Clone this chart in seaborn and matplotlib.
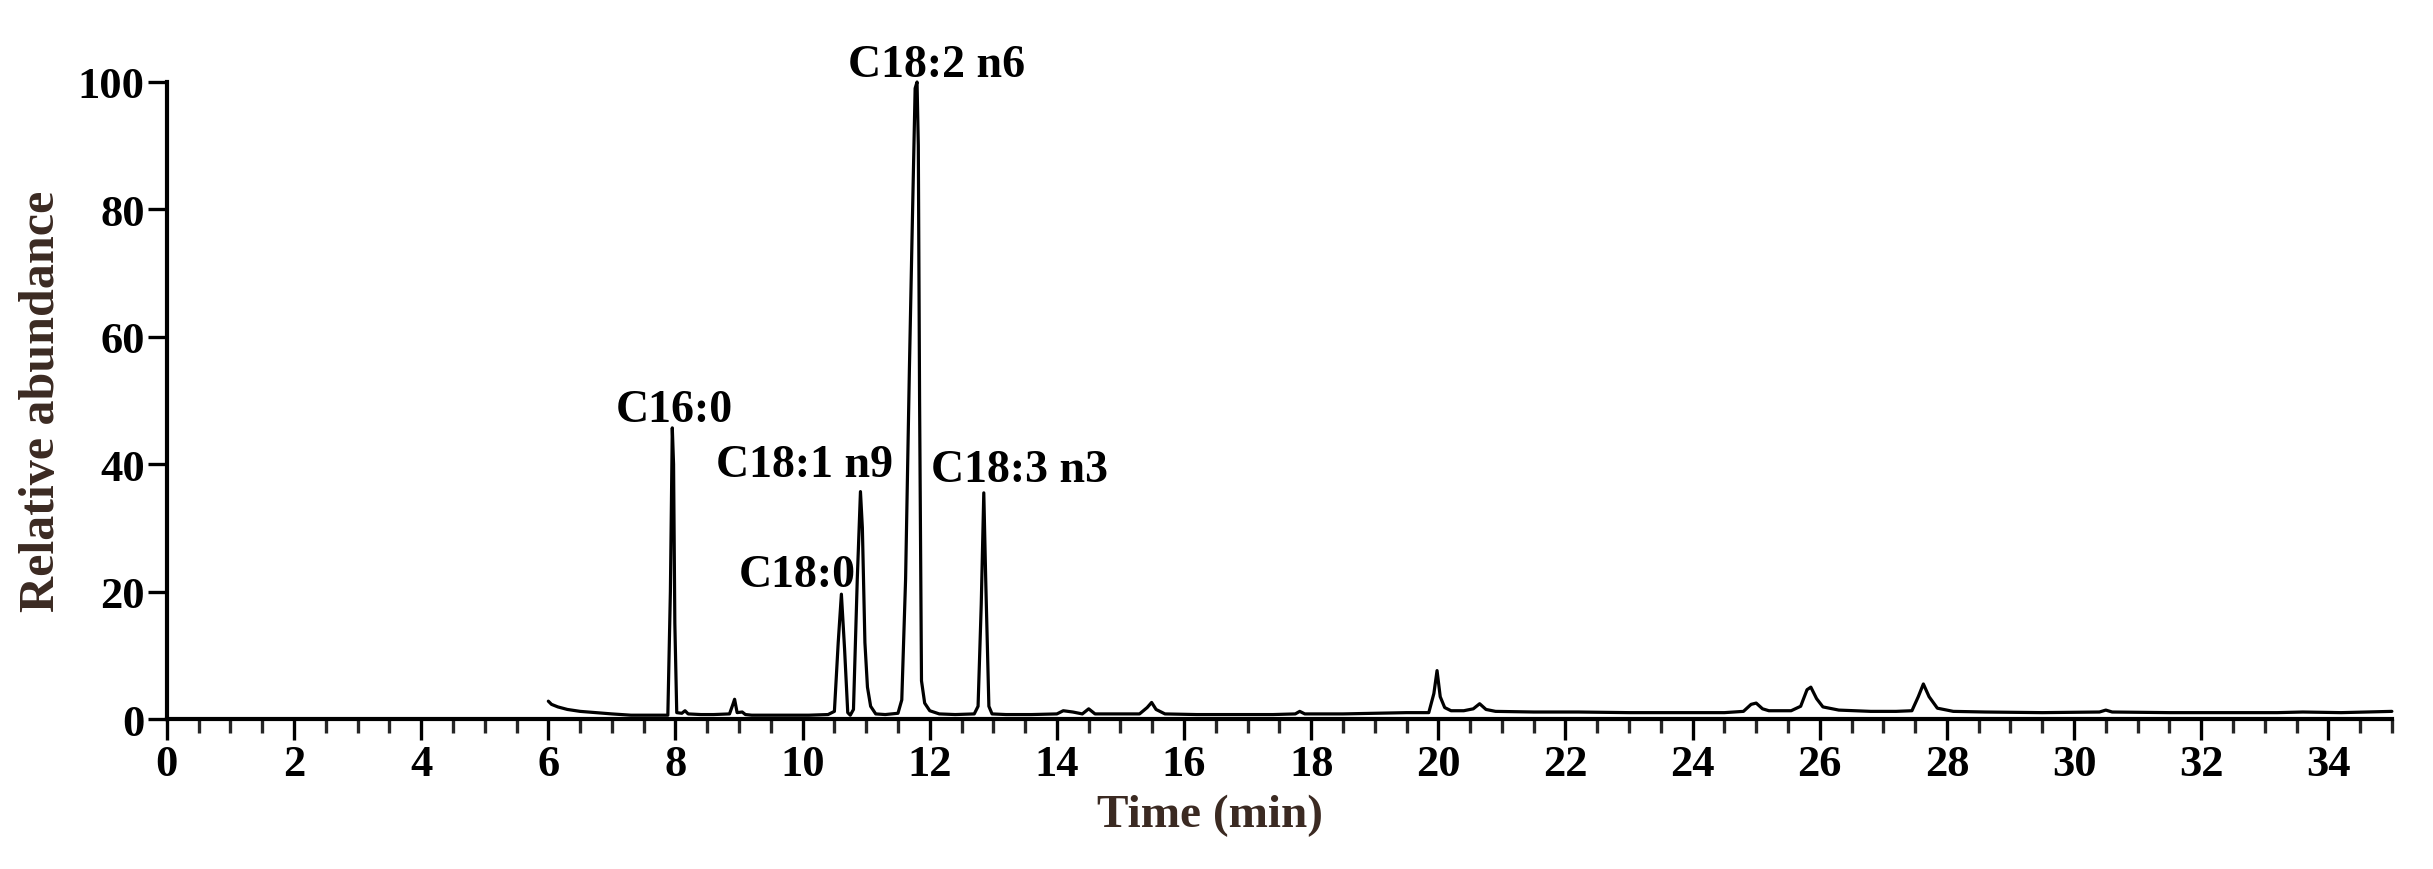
import matplotlib
matplotlib.use("Agg")
import matplotlib.pyplot as plt
from matplotlib.ticker import MultipleLocator, FixedLocator
import pandas as pd
import seaborn as sns

# ---- data ----
time_min = [6.00, 6.05, 6.15, 6.30, 6.50, 6.75, 7.00, 7.30, 7.60, 7.88,
            7.92, 7.95, 7.97, 7.99, 8.02, 8.10, 8.15, 8.20, 8.40, 8.60,
            8.85, 8.90, 8.93, 8.97, 9.05, 9.10, 9.20, 9.50, 9.80, 10.10,
            10.40, 10.50, 10.56, 10.61, 10.66, 10.71, 10.75, 10.80, 10.86, 10.91,
            10.94, 10.98, 11.02, 11.07, 11.15, 11.30, 11.50, 11.56, 11.62, 11.68,
            11.72, 11.77, 11.80, 11.82, 11.84, 11.87, 11.92, 12.00, 12.15, 12.40,
            12.70, 12.76, 12.81, 12.85, 12.88, 12.93, 12.98, 13.20, 13.60, 14.00,
            14.10, 14.25, 14.40, 14.50, 14.60, 14.90, 15.30, 15.42, 15.49, 15.56,
            15.70, 16.20, 16.80, 17.40, 17.75, 17.82, 17.90, 18.50, 19.00, 19.50,
            19.85, 19.93, 19.98, 20.03, 20.10, 20.20, 20.40, 20.55, 20.65, 20.75,
            20.90, 21.50, 22.20, 23.00, 23.80, 24.50, 24.80, 24.92, 25.00, 25.10,
            25.20, 25.55, 25.70, 25.80, 25.86, 25.95, 26.05, 26.30, 26.80, 27.20,
            27.45, 27.55, 27.63, 27.72, 27.85, 28.10, 28.60, 29.50, 30.40, 30.50,
            30.60, 31.50, 32.50, 33.20, 33.60, 34.20, 34.60, 35.00]
abundance = [2.8, 2.3, 1.9, 1.5, 1.2, 1.0, 0.8, 0.6, 0.6, 0.6,
             20, 45.7, 40, 15, 1.0, 0.9, 1.3, 0.8, 0.7, 0.7,
             0.8, 2.2, 3.1, 1.0, 1.1, 0.7, 0.6, 0.6, 0.6, 0.6,
             0.7, 1.2, 12, 19.6, 11, 1.0, 0.6, 1.5, 22, 35.7,
             30, 12, 5, 2.0, 0.8, 0.7, 0.9, 3, 22, 55,
             75, 99, 100, 90, 50, 6, 2.5, 1.3, 0.8, 0.7,
             0.8, 2, 18, 35.5, 22, 2, 0.8, 0.7, 0.7, 0.8,
             1.3, 1.1, 0.8, 1.6, 0.8, 0.8, 0.8, 1.8, 2.6, 1.5,
             0.8, 0.7, 0.7, 0.7, 0.8, 1.2, 0.8, 0.8, 0.9, 1.0,
             1.0, 4, 7.6, 3.5, 1.8, 1.3, 1.3, 1.6, 2.4, 1.5,
             1.2, 1.1, 1.1, 1.0, 1.0, 1.0, 1.2, 2.3, 2.5, 1.6,
             1.3, 1.3, 2.0, 4.6, 5.0, 3.2, 1.9, 1.4, 1.2, 1.2,
             1.3, 3.5, 5.5, 3.5, 1.7, 1.2, 1.1, 1.0, 1.1, 1.4,
             1.1, 1.0, 1.0, 1.0, 1.1, 1.0, 1.1, 1.2]

peak_labels = ["C16:0", "C18:0", "C18:1 n9", "C18:2 n6", "C18:3 n3"]
peak_times = [7.95, 10.61, 10.91, 11.80, 12.85]
peak_heights = [45.7, 19.6, 35.7, 100, 35.5]

x_major_ticks = list(range(0, 35, 2))
y_major_ticks = [0, 20, 40, 60, 80, 100]

# ---- layout / style (kept apart from the data) ----
label_offsets_pt = [(1.5, 5), (-32, 6), (-40, 11), (14, 4), (26, 8.6)]
TEXT_DARK = "#3b2a22"

sns.set_theme(style="ticks")
plt.rcParams["font.family"] = ["Liberation Serif", "DejaVu Serif"]
plt.rcParams["font.weight"] = "bold"
plt.rcParams["axes.labelweight"] = "bold"

fig = plt.figure(figsize=(24.33, 8.7), dpi=100)
ax = fig.add_axes([0.0686, 0.1724, 0.9145, 0.7322])

df = pd.DataFrame({"time": time_min, "abundance": abundance})
sns.lineplot(data=df, x="time", y="abundance", ax=ax, color="black",
             linewidth=2.3, sort=False, estimator=None, clip_on=False)

for lab, t, h, (dx, dy) in zip(peak_labels, peak_times, peak_heights, label_offsets_pt):
    ax.annotate(lab, xy=(t, h), xytext=(dx, dy), textcoords="offset points",
                ha="center", va="baseline", fontsize=33, fontweight="bold",
                color="black", annotation_clip=False)

ax.set_xlim(0, 35)
ax.set_ylim(0, 100)
ax.xaxis.set_major_locator(FixedLocator(x_major_ticks))
ax.xaxis.set_minor_locator(MultipleLocator(0.5))
ax.yaxis.set_major_locator(FixedLocator(y_major_ticks))

for s in ["top", "right"]:
    ax.spines[s].set_visible(False)
for s in ["left", "bottom"]:
    ax.spines[s].set_linewidth(3)
    ax.spines[s].set_color("black")

ax.tick_params(axis="x", which="major", length=15, width=2.4, direction="out",
               pad=3, labelsize=32, colors="black")
ax.tick_params(axis="x", which="minor", length=10, width=2.4, direction="out")
ax.tick_params(axis="y", which="major", length=14, width=2.4, direction="out",
               pad=2, labelsize=32, colors="black")
for lbl in ax.get_xticklabels() + ax.get_yticklabels():
    lbl.set_fontweight("bold")

ax.set_xlabel("Time (min)", fontsize=34, fontweight="bold", color=TEXT_DARK)
ax.set_ylabel("Relative abundance", fontsize=36, fontweight="bold", color=TEXT_DARK)
ax.xaxis.set_label_coords(0.469, -0.118)
ax.yaxis.set_label_coords(-0.046, 0.5)
ax.grid(False)

fig.savefig("out.png", dpi=100, facecolor="white")
